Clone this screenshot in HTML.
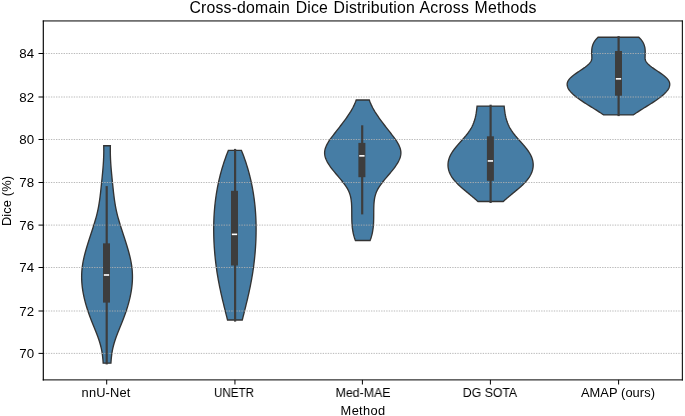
<!DOCTYPE html>
<html lang="en">
<head>
<meta charset="utf-8">
<title>Cross-domain Dice Distribution Across Methods</title>
<style>
html,body{margin:0;padding:0;background:#ffffff;}
body{width:685px;height:416px;position:relative;overflow:hidden;font-family:"Liberation Sans",sans-serif;color:#000;}
.t{position:absolute;will-change:transform;transform-origin:50% 50%;white-space:nowrap;line-height:16px;height:16px;font-size:12.85px;text-align:center;}
.title{font-size:15.8px;line-height:20px;height:20px;word-spacing:1px;}
.ytick{text-align:right;letter-spacing:0.15px;font-size:13.3px;}
</style>
</head>
<body>
<svg width="685" height="416" viewBox="0 0 685 416" style="position:absolute;left:0;top:0">
<rect x="0" y="0" width="685" height="416" fill="#ffffff"/>
<path d="M110.37,145.75 L110.33,147.74 L110.31,149.73 L110.31,151.73 L110.34,153.72 L110.39,155.72 L110.46,157.71 L110.55,159.71 L110.66,161.70 L110.78,163.70 L110.92,165.69 L111.07,167.69 L111.23,169.68 L111.41,171.68 L111.59,173.67 L111.78,175.67 L111.97,177.66 L112.17,179.66 L112.38,181.65 L112.58,183.65 L112.79,185.64 L113.00,187.64 L113.21,189.63 L113.42,191.62 L113.65,193.62 L113.89,195.61 L114.14,197.61 L114.41,199.60 L114.70,201.60 L115.02,203.59 L115.35,205.59 L115.72,207.58 L116.12,209.58 L116.56,211.57 L117.02,213.57 L117.52,215.56 L118.05,217.56 L118.61,219.55 L119.19,221.55 L119.79,223.54 L120.40,225.54 L121.03,227.53 L121.68,229.53 L122.32,231.52 L122.98,233.51 L123.63,235.51 L124.29,237.50 L124.94,239.50 L125.58,241.49 L126.21,243.49 L126.83,245.48 L127.43,247.48 L128.02,249.47 L128.58,251.47 L129.11,253.46 L129.62,255.46 L130.09,257.45 L130.53,259.45 L130.93,261.44 L131.29,263.44 L131.61,265.43 L131.88,267.43 L132.10,269.42 L132.26,271.42 L132.38,273.41 L132.44,275.41 L132.45,277.40 L132.41,279.39 L132.32,281.39 L132.18,283.38 L132.00,285.38 L131.78,287.37 L131.51,289.37 L131.20,291.36 L130.84,293.36 L130.45,295.35 L130.03,297.35 L129.56,299.34 L129.06,301.34 L128.53,303.33 L127.96,305.33 L127.37,307.32 L126.74,309.32 L126.08,311.31 L125.40,313.31 L124.69,315.30 L123.96,317.30 L123.20,319.29 L122.43,321.28 L121.63,323.28 L120.82,325.27 L120.00,327.27 L119.19,329.26 L118.38,331.26 L117.59,333.25 L116.83,335.25 L116.09,337.24 L115.39,339.24 L114.73,341.23 L114.12,343.23 L113.56,345.22 L113.07,347.22 L112.63,349.21 L112.25,351.21 L111.93,353.20 L111.65,355.20 L111.41,357.19 L111.21,359.19 L111.05,361.18 L110.93,363.18 L103.17,363.18 L103.05,361.18 L102.89,359.19 L102.69,357.19 L102.45,355.20 L102.17,353.20 L101.85,351.21 L101.47,349.21 L101.03,347.22 L100.54,345.22 L99.98,343.23 L99.37,341.23 L98.71,339.24 L98.01,337.24 L97.27,335.25 L96.51,333.25 L95.72,331.26 L94.91,329.26 L94.10,327.27 L93.28,325.27 L92.47,323.28 L91.67,321.28 L90.90,319.29 L90.14,317.30 L89.41,315.30 L88.70,313.31 L88.02,311.31 L87.36,309.32 L86.73,307.32 L86.14,305.33 L85.57,303.33 L85.04,301.34 L84.54,299.34 L84.07,297.35 L83.65,295.35 L83.26,293.36 L82.90,291.36 L82.59,289.37 L82.32,287.37 L82.10,285.38 L81.92,283.38 L81.78,281.39 L81.69,279.39 L81.65,277.40 L81.66,275.41 L81.72,273.41 L81.84,271.42 L82.00,269.42 L82.22,267.43 L82.49,265.43 L82.81,263.44 L83.17,261.44 L83.57,259.45 L84.01,257.45 L84.48,255.46 L84.99,253.46 L85.52,251.47 L86.08,249.47 L86.67,247.48 L87.27,245.48 L87.89,243.49 L88.52,241.49 L89.16,239.50 L89.81,237.50 L90.47,235.51 L91.12,233.51 L91.78,231.52 L92.42,229.53 L93.07,227.53 L93.70,225.54 L94.31,223.54 L94.91,221.55 L95.49,219.55 L96.05,217.56 L96.58,215.56 L97.08,213.57 L97.54,211.57 L97.98,209.58 L98.38,207.58 L98.75,205.59 L99.08,203.59 L99.40,201.60 L99.69,199.60 L99.96,197.61 L100.21,195.61 L100.45,193.62 L100.68,191.62 L100.89,189.63 L101.10,187.64 L101.31,185.64 L101.52,183.65 L101.72,181.65 L101.93,179.66 L102.13,177.66 L102.32,175.67 L102.51,173.67 L102.69,171.68 L102.87,169.68 L103.03,167.69 L103.18,165.69 L103.32,163.70 L103.44,161.70 L103.55,159.71 L103.64,157.71 L103.71,155.72 L103.76,153.72 L103.79,151.73 L103.79,149.73 L103.77,147.74 L103.73,145.75Z" fill="#467da5" stroke="#333333" stroke-width="1.35" stroke-linejoin="miter"/>
<path d="M241.44,150.38 L242.06,151.93 L242.67,153.49 L243.26,155.04 L243.83,156.60 L244.39,158.16 L244.94,159.71 L245.47,161.27 L245.99,162.83 L246.49,164.38 L246.98,165.94 L247.45,167.50 L247.91,169.05 L248.36,170.61 L248.79,172.16 L249.21,173.72 L249.61,175.28 L250.00,176.83 L250.38,178.39 L250.74,179.95 L251.10,181.50 L251.43,183.06 L251.76,184.62 L252.07,186.17 L252.37,187.73 L252.66,189.29 L252.93,190.84 L253.19,192.40 L253.44,193.95 L253.68,195.51 L253.91,197.07 L254.12,198.62 L254.32,200.18 L254.52,201.74 L254.69,203.29 L254.86,204.85 L255.02,206.41 L255.16,207.96 L255.30,209.52 L255.42,211.08 L255.53,212.63 L255.64,214.19 L255.73,215.74 L255.81,217.30 L255.88,218.86 L255.94,220.41 L255.99,221.97 L256.03,223.53 L256.06,225.08 L256.08,226.64 L256.10,228.20 L256.10,229.75 L256.09,231.31 L256.07,232.87 L256.05,234.42 L256.01,235.98 L255.97,237.53 L255.92,239.09 L255.86,240.65 L255.79,242.20 L255.71,243.76 L255.62,245.32 L255.53,246.87 L255.42,248.43 L255.31,249.99 L255.19,251.54 L255.06,253.10 L254.92,254.66 L254.77,256.21 L254.62,257.77 L254.45,259.32 L254.28,260.88 L254.10,262.44 L253.91,263.99 L253.71,265.55 L253.51,267.11 L253.29,268.66 L253.07,270.22 L252.84,271.78 L252.60,273.33 L252.35,274.89 L252.09,276.45 L251.82,278.00 L251.55,279.56 L251.26,281.11 L250.97,282.67 L250.67,284.23 L250.36,285.78 L250.05,287.34 L249.72,288.90 L249.39,290.45 L249.05,292.01 L248.71,293.57 L248.36,295.12 L248.00,296.68 L247.64,298.24 L247.28,299.79 L246.91,301.35 L246.53,302.90 L246.15,304.46 L245.77,306.02 L245.39,307.57 L245.00,309.13 L244.61,310.69 L244.22,312.24 L243.83,313.80 L243.44,315.36 L243.04,316.91 L242.65,318.47 L242.25,320.02 L227.55,320.02 L227.15,318.47 L226.76,316.91 L226.36,315.36 L225.97,313.80 L225.58,312.24 L225.19,310.69 L224.80,309.13 L224.41,307.57 L224.03,306.02 L223.65,304.46 L223.27,302.90 L222.89,301.35 L222.52,299.79 L222.16,298.24 L221.80,296.68 L221.44,295.12 L221.09,293.57 L220.75,292.01 L220.41,290.45 L220.08,288.90 L219.75,287.34 L219.44,285.78 L219.13,284.23 L218.83,282.67 L218.54,281.11 L218.25,279.56 L217.98,278.00 L217.71,276.45 L217.45,274.89 L217.20,273.33 L216.96,271.78 L216.73,270.22 L216.51,268.66 L216.29,267.11 L216.09,265.55 L215.89,263.99 L215.70,262.44 L215.52,260.88 L215.35,259.32 L215.18,257.77 L215.03,256.21 L214.88,254.66 L214.74,253.10 L214.61,251.54 L214.49,249.99 L214.38,248.43 L214.27,246.87 L214.18,245.32 L214.09,243.76 L214.01,242.20 L213.94,240.65 L213.88,239.09 L213.83,237.53 L213.79,235.98 L213.75,234.42 L213.73,232.87 L213.71,231.31 L213.70,229.75 L213.70,228.20 L213.72,226.64 L213.74,225.08 L213.77,223.53 L213.81,221.97 L213.86,220.41 L213.92,218.86 L213.99,217.30 L214.07,215.74 L214.16,214.19 L214.27,212.63 L214.38,211.08 L214.50,209.52 L214.64,207.96 L214.78,206.41 L214.94,204.85 L215.11,203.29 L215.28,201.74 L215.48,200.18 L215.68,198.62 L215.89,197.07 L216.12,195.51 L216.36,193.95 L216.61,192.40 L216.87,190.84 L217.14,189.29 L217.43,187.73 L217.73,186.17 L218.04,184.62 L218.37,183.06 L218.70,181.50 L219.06,179.95 L219.42,178.39 L219.80,176.83 L220.19,175.28 L220.59,173.72 L221.01,172.16 L221.44,170.61 L221.89,169.05 L222.35,167.50 L222.82,165.94 L223.31,164.38 L223.81,162.83 L224.33,161.27 L224.86,159.71 L225.41,158.16 L225.97,156.60 L226.54,155.04 L227.13,153.49 L227.74,151.93 L228.36,150.38Z" fill="#467da5" stroke="#333333" stroke-width="1.35" stroke-linejoin="miter"/>
<path d="M369.28,99.97 L369.73,101.26 L370.23,102.55 L370.78,103.84 L371.36,105.13 L371.99,106.42 L372.66,107.71 L373.37,109.00 L374.11,110.29 L374.88,111.58 L375.69,112.87 L376.52,114.16 L377.38,115.45 L378.26,116.74 L379.17,118.03 L380.09,119.32 L381.03,120.61 L381.99,121.90 L382.96,123.19 L383.94,124.47 L384.94,125.76 L385.94,127.05 L386.94,128.34 L387.95,129.63 L388.96,130.92 L389.96,132.21 L390.97,133.50 L391.96,134.79 L392.95,136.08 L393.92,137.37 L394.86,138.66 L395.77,139.95 L396.63,141.24 L397.44,142.53 L398.18,143.82 L398.85,145.11 L399.44,146.40 L399.95,147.68 L400.35,148.97 L400.65,150.26 L400.83,151.55 L400.89,152.84 L400.83,154.13 L400.65,155.42 L400.36,156.71 L399.97,158.00 L399.49,159.29 L398.91,160.58 L398.26,161.87 L397.53,163.16 L396.73,164.45 L395.88,165.74 L394.96,167.03 L394.00,168.32 L393.00,169.61 L391.97,170.89 L390.91,172.18 L389.83,173.47 L388.73,174.76 L387.63,176.05 L386.54,177.34 L385.45,178.63 L384.38,179.92 L383.33,181.21 L382.31,182.50 L381.33,183.79 L380.40,185.08 L379.52,186.37 L378.70,187.66 L377.94,188.95 L377.26,190.24 L376.65,191.53 L376.13,192.82 L375.67,194.10 L375.28,195.39 L374.95,196.68 L374.67,197.97 L374.44,199.26 L374.26,200.55 L374.11,201.84 L374.00,203.13 L373.92,204.42 L373.86,205.71 L373.81,207.00 L373.78,208.29 L373.76,209.58 L373.74,210.87 L373.73,212.16 L373.73,213.45 L373.72,214.74 L373.71,216.03 L373.70,217.31 L373.68,218.60 L373.65,219.89 L373.61,221.18 L373.56,222.47 L373.49,223.76 L373.41,225.05 L373.30,226.34 L373.17,227.63 L373.01,228.92 L372.82,230.21 L372.61,231.50 L372.36,232.79 L372.08,234.08 L371.76,235.37 L371.40,236.66 L371.00,237.95 L370.55,239.24 L370.06,240.52 L355.44,240.52 L354.95,239.24 L354.50,237.95 L354.10,236.66 L353.74,235.37 L353.42,234.08 L353.14,232.79 L352.89,231.50 L352.68,230.21 L352.49,228.92 L352.33,227.63 L352.20,226.34 L352.09,225.05 L352.01,223.76 L351.94,222.47 L351.89,221.18 L351.85,219.89 L351.82,218.60 L351.80,217.31 L351.79,216.03 L351.78,214.74 L351.77,213.45 L351.77,212.16 L351.76,210.87 L351.74,209.58 L351.72,208.29 L351.69,207.00 L351.64,205.71 L351.58,204.42 L351.50,203.13 L351.39,201.84 L351.24,200.55 L351.06,199.26 L350.83,197.97 L350.55,196.68 L350.22,195.39 L349.83,194.10 L349.37,192.82 L348.85,191.53 L348.24,190.24 L347.56,188.95 L346.80,187.66 L345.98,186.37 L345.10,185.08 L344.17,183.79 L343.19,182.50 L342.17,181.21 L341.12,179.92 L340.05,178.63 L338.96,177.34 L337.87,176.05 L336.77,174.76 L335.67,173.47 L334.59,172.18 L333.53,170.89 L332.50,169.61 L331.50,168.32 L330.54,167.03 L329.62,165.74 L328.77,164.45 L327.97,163.16 L327.24,161.87 L326.59,160.58 L326.01,159.29 L325.53,158.00 L325.14,156.71 L324.85,155.42 L324.67,154.13 L324.61,152.84 L324.67,151.55 L324.85,150.26 L325.15,148.97 L325.55,147.68 L326.06,146.40 L326.65,145.11 L327.32,143.82 L328.06,142.53 L328.87,141.24 L329.73,139.95 L330.64,138.66 L331.58,137.37 L332.55,136.08 L333.54,134.79 L334.53,133.50 L335.54,132.21 L336.54,130.92 L337.55,129.63 L338.56,128.34 L339.56,127.05 L340.56,125.76 L341.56,124.47 L342.54,123.19 L343.51,121.90 L344.47,120.61 L345.41,119.32 L346.33,118.03 L347.24,116.74 L348.12,115.45 L348.98,114.16 L349.81,112.87 L350.62,111.58 L351.39,110.29 L352.13,109.00 L352.84,107.71 L353.51,106.42 L354.14,105.13 L354.72,103.84 L355.27,102.55 L355.77,101.26 L356.22,99.97Z" fill="#467da5" stroke="#333333" stroke-width="1.35" stroke-linejoin="miter"/>
<path d="M504.14,106.08 L504.23,106.95 L504.32,107.83 L504.41,108.70 L504.51,109.58 L504.62,110.45 L504.73,111.33 L504.86,112.20 L505.00,113.08 L505.14,113.96 L505.31,114.83 L505.48,115.71 L505.67,116.58 L505.87,117.46 L506.09,118.33 L506.33,119.21 L506.59,120.09 L506.87,120.96 L507.16,121.84 L507.48,122.71 L507.83,123.59 L508.19,124.46 L508.59,125.34 L509.01,126.22 L509.45,127.09 L509.92,127.97 L510.43,128.84 L510.96,129.72 L511.52,130.59 L512.12,131.47 L512.74,132.35 L513.40,133.22 L514.08,134.10 L514.78,134.97 L515.49,135.85 L516.23,136.72 L516.98,137.60 L517.74,138.48 L518.51,139.35 L519.28,140.23 L520.06,141.10 L520.84,141.98 L521.61,142.85 L522.38,143.73 L523.15,144.61 L523.90,145.48 L524.64,146.36 L525.36,147.23 L526.06,148.11 L526.74,148.98 L527.40,149.86 L528.03,150.74 L528.64,151.61 L529.21,152.49 L529.74,153.36 L530.24,154.24 L530.70,155.11 L531.12,155.99 L531.50,156.86 L531.85,157.74 L532.15,158.62 L532.42,159.49 L532.65,160.37 L532.83,161.24 L532.98,162.12 L533.09,162.99 L533.16,163.87 L533.19,164.75 L533.18,165.62 L533.13,166.50 L533.04,167.37 L532.91,168.25 L532.73,169.12 L532.52,170.00 L532.27,170.88 L531.97,171.75 L531.64,172.63 L531.26,173.50 L530.84,174.38 L530.38,175.25 L529.88,176.13 L529.34,177.01 L528.75,177.88 L528.12,178.76 L527.45,179.63 L526.74,180.51 L525.99,181.38 L525.19,182.26 L524.35,183.14 L523.49,184.01 L522.58,184.89 L521.65,185.76 L520.70,186.64 L519.72,187.51 L518.71,188.39 L517.69,189.27 L516.66,190.14 L515.61,191.02 L514.56,191.89 L513.50,192.77 L512.43,193.64 L511.37,194.52 L510.30,195.40 L509.24,196.27 L508.19,197.15 L507.16,198.02 L506.13,198.90 L505.12,199.77 L504.13,200.65 L503.17,201.52 L478.03,201.52 L477.07,200.65 L476.08,199.77 L475.07,198.90 L474.04,198.02 L473.01,197.15 L471.96,196.27 L470.90,195.40 L469.83,194.52 L468.77,193.64 L467.70,192.77 L466.64,191.89 L465.59,191.02 L464.54,190.14 L463.51,189.27 L462.49,188.39 L461.48,187.51 L460.50,186.64 L459.55,185.76 L458.62,184.89 L457.71,184.01 L456.85,183.14 L456.01,182.26 L455.21,181.38 L454.46,180.51 L453.75,179.63 L453.08,178.76 L452.45,177.88 L451.86,177.01 L451.32,176.13 L450.82,175.25 L450.36,174.38 L449.94,173.50 L449.56,172.63 L449.23,171.75 L448.93,170.88 L448.68,170.00 L448.47,169.12 L448.29,168.25 L448.16,167.37 L448.07,166.50 L448.02,165.62 L448.01,164.75 L448.04,163.87 L448.11,162.99 L448.22,162.12 L448.37,161.24 L448.55,160.37 L448.78,159.49 L449.05,158.62 L449.35,157.74 L449.70,156.86 L450.08,155.99 L450.50,155.11 L450.96,154.24 L451.46,153.36 L451.99,152.49 L452.56,151.61 L453.17,150.74 L453.80,149.86 L454.46,148.98 L455.14,148.11 L455.84,147.23 L456.56,146.36 L457.30,145.48 L458.05,144.61 L458.82,143.73 L459.59,142.85 L460.36,141.98 L461.14,141.10 L461.92,140.23 L462.69,139.35 L463.46,138.48 L464.22,137.60 L464.97,136.72 L465.71,135.85 L466.42,134.97 L467.12,134.10 L467.80,133.22 L468.46,132.35 L469.08,131.47 L469.68,130.59 L470.24,129.72 L470.77,128.84 L471.28,127.97 L471.75,127.09 L472.19,126.22 L472.61,125.34 L473.01,124.46 L473.37,123.59 L473.72,122.71 L474.04,121.84 L474.33,120.96 L474.61,120.09 L474.87,119.21 L475.11,118.33 L475.33,117.46 L475.53,116.58 L475.72,115.71 L475.89,114.83 L476.06,113.96 L476.20,113.08 L476.34,112.20 L476.47,111.33 L476.58,110.45 L476.69,109.58 L476.79,108.70 L476.88,107.83 L476.97,106.95 L477.06,106.08Z" fill="#467da5" stroke="#333333" stroke-width="1.35" stroke-linejoin="miter"/>
<path d="M638.80,37.27 L639.56,37.99 L640.27,38.70 L640.91,39.41 L641.49,40.12 L642.03,40.84 L642.50,41.55 L642.93,42.26 L643.31,42.97 L643.65,43.69 L643.95,44.40 L644.20,45.11 L644.42,45.82 L644.61,46.54 L644.77,47.25 L644.89,47.96 L645.00,48.67 L645.08,49.39 L645.13,50.10 L645.17,50.81 L645.20,51.52 L645.20,52.24 L645.20,52.95 L645.19,53.66 L645.17,54.37 L645.14,55.08 L645.11,55.80 L645.08,56.51 L645.06,57.22 L645.06,57.93 L645.10,58.65 L645.20,59.36 L645.37,60.07 L645.63,60.78 L646.00,61.50 L646.46,62.21 L647.01,62.92 L647.64,63.63 L648.35,64.35 L649.13,65.06 L649.97,65.77 L650.86,66.48 L651.80,67.20 L652.78,67.91 L653.79,68.62 L654.82,69.33 L655.88,70.04 L656.94,70.76 L658.00,71.47 L659.06,72.18 L660.11,72.89 L661.13,73.61 L662.13,74.32 L663.10,75.03 L664.03,75.74 L664.90,76.46 L665.72,77.17 L666.48,77.88 L667.17,78.59 L667.78,79.31 L668.31,80.02 L668.75,80.73 L669.10,81.44 L669.38,82.16 L669.58,82.87 L669.70,83.58 L669.75,84.29 L669.72,85.00 L669.63,85.72 L669.47,86.43 L669.24,87.14 L668.95,87.85 L668.60,88.57 L668.19,89.28 L667.72,89.99 L667.20,90.70 L666.63,91.42 L666.01,92.13 L665.34,92.84 L664.63,93.55 L663.87,94.27 L663.07,94.98 L662.24,95.69 L661.36,96.40 L660.46,97.12 L659.52,97.83 L658.55,98.54 L657.56,99.25 L656.54,99.96 L655.50,100.68 L654.44,101.39 L653.35,102.10 L652.26,102.81 L651.15,103.53 L650.02,104.24 L648.89,104.95 L647.75,105.66 L646.61,106.38 L645.46,107.09 L644.32,107.80 L643.17,108.51 L642.03,109.23 L640.89,109.94 L639.77,110.65 L638.65,111.36 L637.55,112.08 L636.46,112.79 L635.39,113.50 L634.34,114.21 L633.31,114.92 L603.59,114.92 L602.56,114.21 L601.51,113.50 L600.44,112.79 L599.35,112.08 L598.25,111.36 L597.13,110.65 L596.01,109.94 L594.87,109.23 L593.73,108.51 L592.58,107.80 L591.44,107.09 L590.29,106.38 L589.15,105.66 L588.01,104.95 L586.88,104.24 L585.75,103.53 L584.64,102.81 L583.55,102.10 L582.46,101.39 L581.40,100.68 L580.36,99.96 L579.34,99.25 L578.35,98.54 L577.38,97.83 L576.44,97.12 L575.54,96.40 L574.66,95.69 L573.83,94.98 L573.03,94.27 L572.27,93.55 L571.56,92.84 L570.89,92.13 L570.27,91.42 L569.70,90.70 L569.18,89.99 L568.71,89.28 L568.30,88.57 L567.95,87.85 L567.66,87.14 L567.43,86.43 L567.27,85.72 L567.18,85.00 L567.15,84.29 L567.20,83.58 L567.32,82.87 L567.52,82.16 L567.80,81.44 L568.15,80.73 L568.59,80.02 L569.12,79.31 L569.73,78.59 L570.42,77.88 L571.18,77.17 L572.00,76.46 L572.87,75.74 L573.80,75.03 L574.77,74.32 L575.77,73.61 L576.79,72.89 L577.84,72.18 L578.90,71.47 L579.96,70.76 L581.02,70.04 L582.08,69.33 L583.11,68.62 L584.12,67.91 L585.10,67.20 L586.04,66.48 L586.93,65.77 L587.77,65.06 L588.55,64.35 L589.26,63.63 L589.89,62.92 L590.44,62.21 L590.90,61.50 L591.27,60.78 L591.53,60.07 L591.70,59.36 L591.80,58.65 L591.84,57.93 L591.84,57.22 L591.82,56.51 L591.79,55.80 L591.76,55.08 L591.73,54.37 L591.71,53.66 L591.70,52.95 L591.70,52.24 L591.70,51.52 L591.73,50.81 L591.77,50.10 L591.82,49.39 L591.90,48.67 L592.01,47.96 L592.13,47.25 L592.29,46.54 L592.48,45.82 L592.70,45.11 L592.95,44.40 L593.25,43.69 L593.59,42.97 L593.97,42.26 L594.40,41.55 L594.87,40.84 L595.41,40.12 L595.99,39.41 L596.63,38.70 L597.34,37.99 L598.10,37.27Z" fill="#467da5" stroke="#333333" stroke-width="1.35" stroke-linejoin="miter"/>
<line x1="43.3" y1="353.40" x2="682.35" y2="353.40" stroke="#b0b0b0" stroke-opacity="0.88" stroke-width="1" stroke-dasharray="1.35 1.19"/>
<line x1="43.3" y1="311.00" x2="682.35" y2="311.00" stroke="#b0b0b0" stroke-opacity="0.88" stroke-width="1" stroke-dasharray="1.35 1.19"/>
<line x1="43.3" y1="267.50" x2="682.35" y2="267.50" stroke="#b0b0b0" stroke-opacity="0.88" stroke-width="1" stroke-dasharray="1.35 1.19"/>
<line x1="43.3" y1="225.10" x2="682.35" y2="225.10" stroke="#b0b0b0" stroke-opacity="0.88" stroke-width="1" stroke-dasharray="1.35 1.19"/>
<line x1="43.3" y1="182.50" x2="682.35" y2="182.50" stroke="#b0b0b0" stroke-opacity="0.88" stroke-width="1" stroke-dasharray="1.35 1.19"/>
<line x1="43.3" y1="139.50" x2="682.35" y2="139.50" stroke="#b0b0b0" stroke-opacity="0.88" stroke-width="1" stroke-dasharray="1.35 1.19"/>
<line x1="43.3" y1="97.00" x2="682.35" y2="97.00" stroke="#b0b0b0" stroke-opacity="0.88" stroke-width="1" stroke-dasharray="1.35 1.19"/>
<line x1="43.3" y1="53.50" x2="682.35" y2="53.50" stroke="#b0b0b0" stroke-opacity="0.88" stroke-width="1" stroke-dasharray="1.35 1.19"/>
<line x1="106.7" y1="186.10" x2="106.7" y2="364.40" stroke="#3d3d3d" stroke-width="2.2"/>
<rect x="103.00" y="243.35" width="7.0" height="59.25" fill="#3d3d3d"/>
<rect x="103.85" y="274.20" width="5.3" height="1.6" fill="#ffffff"/>
<line x1="235.1" y1="148.90" x2="235.1" y2="321.60" stroke="#3d3d3d" stroke-width="2.2"/>
<rect x="231.00" y="190.80" width="7.0" height="74.70" fill="#3d3d3d"/>
<rect x="231.85" y="233.55" width="5.3" height="1.6" fill="#ffffff"/>
<line x1="362.2" y1="125.30" x2="362.2" y2="214.40" stroke="#3d3d3d" stroke-width="2.2"/>
<rect x="358.40" y="142.90" width="7.0" height="34.30" fill="#3d3d3d"/>
<rect x="359.25" y="155.05" width="5.3" height="1.6" fill="#ffffff"/>
<line x1="490.6" y1="104.70" x2="490.6" y2="203.00" stroke="#3d3d3d" stroke-width="2.2"/>
<rect x="486.90" y="136.30" width="7.0" height="44.50" fill="#3d3d3d"/>
<rect x="487.75" y="160.15" width="5.3" height="1.6" fill="#ffffff"/>
<line x1="618.6" y1="36.10" x2="618.6" y2="116.10" stroke="#3d3d3d" stroke-width="2.2"/>
<rect x="615.00" y="51.00" width="7.0" height="44.70" fill="#3d3d3d"/>
<rect x="615.85" y="78.05" width="5.3" height="1.6" fill="#ffffff"/>
<line x1="38.50" y1="353.40" x2="43.3" y2="353.40" stroke="#000" stroke-width="1"/>
<line x1="38.50" y1="311.00" x2="43.3" y2="311.00" stroke="#000" stroke-width="1"/>
<line x1="38.50" y1="267.50" x2="43.3" y2="267.50" stroke="#000" stroke-width="1"/>
<line x1="38.50" y1="225.10" x2="43.3" y2="225.10" stroke="#000" stroke-width="1"/>
<line x1="38.50" y1="182.50" x2="43.3" y2="182.50" stroke="#000" stroke-width="1"/>
<line x1="38.50" y1="139.50" x2="43.3" y2="139.50" stroke="#000" stroke-width="1"/>
<line x1="38.50" y1="97.00" x2="43.3" y2="97.00" stroke="#000" stroke-width="1"/>
<line x1="38.50" y1="53.50" x2="43.3" y2="53.50" stroke="#000" stroke-width="1"/>
<line x1="106.7" y1="379.9" x2="106.7" y2="384.50" stroke="#000" stroke-width="1"/>
<line x1="234.95" y1="379.9" x2="234.95" y2="384.50" stroke="#000" stroke-width="1"/>
<line x1="362.4" y1="379.9" x2="362.4" y2="384.50" stroke="#000" stroke-width="1"/>
<line x1="490.4" y1="379.9" x2="490.4" y2="384.50" stroke="#000" stroke-width="1"/>
<line x1="618.6" y1="379.9" x2="618.6" y2="384.50" stroke="#000" stroke-width="1"/>
<line x1="42.75" y1="20.95" x2="682.85" y2="20.95" stroke="#000" stroke-width="1"/>
<line x1="42.75" y1="379.9" x2="682.85" y2="379.9" stroke="#000" stroke-width="1"/>
<line x1="43.3" y1="20.45" x2="43.3" y2="380.40" stroke="#000" stroke-width="1.15"/>
<line x1="682.35" y1="20.45" x2="682.35" y2="380.40" stroke="#000" stroke-width="1.05"/>
</svg>
<div class="t title" style="left:112.70px;width:500px;top:-2.00px;letter-spacing:0.19px;">Cross-domain Dice Distribution Across Methods</div>
<div class="t ytick" style="left:0px;width:34.3px;top:346.20px">70</div>
<div class="t ytick" style="left:0px;width:34.3px;top:303.80px">72</div>
<div class="t ytick" style="left:0px;width:34.3px;top:260.30px">74</div>
<div class="t ytick" style="left:0px;width:34.3px;top:217.90px">76</div>
<div class="t ytick" style="left:0px;width:34.3px;top:175.30px">78</div>
<div class="t ytick" style="left:0px;width:34.3px;top:132.30px">80</div>
<div class="t ytick" style="left:0px;width:34.3px;top:89.80px">82</div>
<div class="t ytick" style="left:0px;width:34.3px;top:46.30px">84</div>
<div class="t xtick" style="left:46.27px;width:120px;top:385.20px;letter-spacing:0.14px;">nnU-Net</div>
<div class="t xtick" style="left:174.20px;width:120px;top:385.20px;letter-spacing:0.0px;transform:scaleX(0.91);">UNETR</div>
<div class="t xtick" style="left:302.50px;width:120px;top:385.20px;letter-spacing:0.0px;transform:scaleX(0.963);">Med-MAE</div>
<div class="t xtick" style="left:429.90px;width:120px;top:385.20px;letter-spacing:0.0px;transform:scaleX(0.954);">DG SOTA</div>
<div class="t xtick" style="left:557.78px;width:120px;top:385.20px;letter-spacing:0.07px;">AMAP (ours)</div>
<div class="t xlabel" style="left:302.71px;width:120px;top:402.70px;letter-spacing:0.32px;">Method</div>
<div class="t ylabel" style="left:-53.04px;width:120px;top:193.32px;letter-spacing:0.12px;transform:rotate(-90deg);">Dice (%)</div>
</body>
</html>
